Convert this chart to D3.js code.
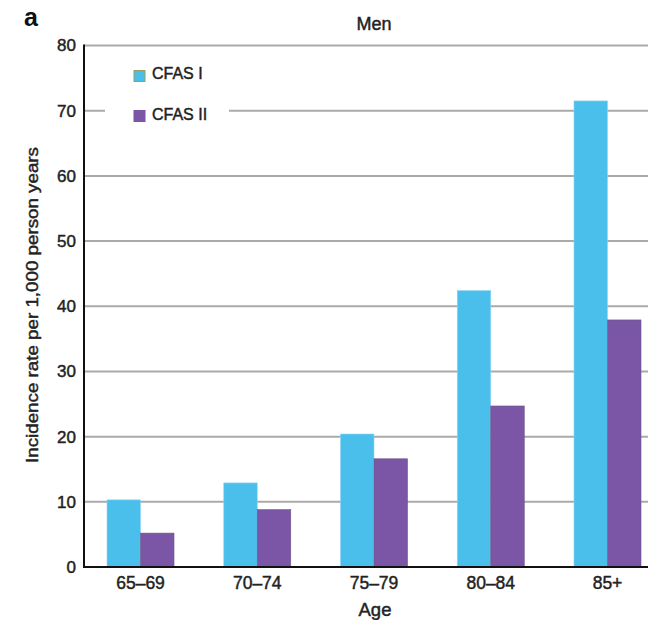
<!DOCTYPE html>
<html><head><meta charset="utf-8">
<script src="https://cdn.jsdelivr.net/npm/d3@7"></script>
<style>body{margin:0;background:#fff}svg{display:block}text{font-family:"Liberation Sans",Arial,sans-serif}</style>
</head><body><svg id="c" width="648" height="620"></svg>
<script>
const categories = ["65–69","70–74","75–79","80–84","85+"];
const seriesNames = ["CFAS I","CFAS II"];
const cfas1 = [10.3, 12.9, 20.4, 42.4, 71.5];
const cfas2 = [5.2, 8.8, 16.6, 24.7, 37.9];
const yTicks = [0,10,20,30,40,50,60,70,80];
const colors = ["#4BBFEC","#7B55A6"];

const svg = d3.select("#c");
const x0 = 84, yBase = 567, yTop = 45.5;
const y = d3.scaleLinear().domain([0,80]).range([yBase, yTop]);
const x = d3.scaleBand().domain(categories).range([x0, 664]).paddingInner(0.426).paddingOuter(0.197);
const xs = d3.scaleBand().domain(seriesNames).range([0, x.bandwidth()]);
const heavy = sel => sel.attr("stroke","#222").attr("stroke-width",0.45).attr("fill","#222");

// gridlines
svg.append("g").selectAll("line").data(yTicks.filter(d=>d>0)).join("line")
  .attr("x1", x0).attr("x2", 648).attr("y1", d=>y(d)).attr("y2", d=>y(d))
  .attr("stroke","#aaa").attr("stroke-width",2);

// legend background
svg.append("rect").attr("x",105).attr("y",55).attr("width",124).attr("height",75).attr("fill","#fff");

// bars
const data = categories.map((c,i)=>({c, vals:[cfas1[i], cfas2[i]]}));
const g = svg.append("g");
data.forEach(d=>{
  d.vals.forEach((v,j)=>{
    g.append("rect").attr("x", x(d.c)+xs(seriesNames[j])).attr("width", xs.bandwidth())
      .attr("y", y(v)).attr("height", yBase - y(v)).attr("fill", colors[j])
      .attr("stroke", j===0 ? "#8fd6f4" : "#6a5a8a").attr("stroke-width",0.6);
  });
});

// axes
const yAxis = d3.axisLeft(y).tickValues(yTicks).tickSize(0).tickPadding(8);
const ya = svg.append("g").attr("transform",`translate(${x0},0)`).call(yAxis);
ya.select(".domain").remove();
ya.selectAll("text").attr("font-size",17).call(heavy);
svg.append("line").attr("x1",x0).attr("x2",x0).attr("y1",yTop-1).attr("y2",yBase+1).attr("stroke","#111").attr("stroke-width",2);

const xAxis = d3.axisBottom(x).tickSize(0).tickPadding(10);
const xa = svg.append("g").attr("transform",`translate(0,${yBase})`).call(xAxis);
xa.select(".domain").remove();
xa.selectAll("text").attr("font-size",17.5).call(heavy);
svg.append("line").attr("x1",x0-1).attr("x2",648).attr("y1",yBase).attr("y2",yBase).attr("stroke","#111").attr("stroke-width",2);

// legend
const legY = [76, 116];
const legBase = [79, 120];
seriesNames.forEach((s,i)=>{
  svg.append("rect").attr("x",134).attr("y",legY[i]-5.5).attr("width",11).attr("height",11)
    .attr("fill",colors[i]).attr("stroke", i===0 ? "#9aa060" : colors[i]).attr("stroke-width",1);
  svg.append("text").attr("x",152).attr("y",legBase[i]).attr("font-size",16).text(s).call(heavy);
});

// titles
svg.append("text").attr("x",24).attr("y",26).attr("font-size",25).attr("font-weight","bold").attr("fill","#111").text("a");
svg.append("text").attr("x",374).attr("y",30).attr("text-anchor","middle").attr("font-size",18).text("Men").call(heavy);
svg.append("text").attr("x",375).attr("y",616).attr("text-anchor","middle").attr("font-size",18.5).text("Age").call(heavy);
svg.append("text").attr("transform","translate(38,305) rotate(-90)").attr("text-anchor","middle")
  .attr("font-size",17).attr("textLength",316).attr("lengthAdjust","spacingAndGlyphs")
  .text("Incidence rate per 1,000 person years").call(heavy);
</script></body></html>
